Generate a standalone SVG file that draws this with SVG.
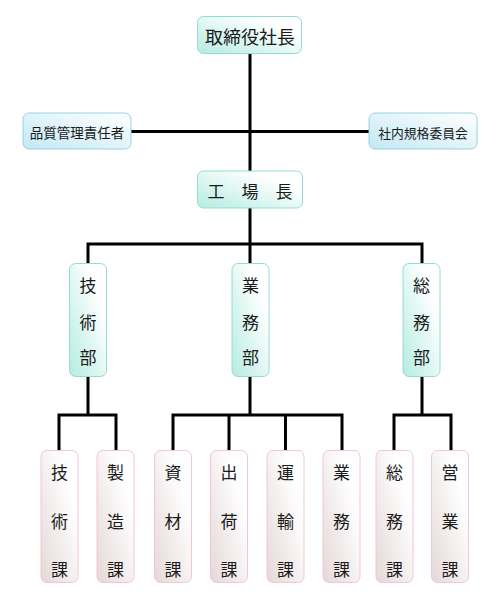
<svg xmlns="http://www.w3.org/2000/svg" width="500" height="600" viewBox="0 0 500 600">
<defs>
<linearGradient id="gMint" x1="0" y1="1" x2="1" y2="0">
<stop offset="0" stop-color="#b4ece0"/>
<stop offset="0.75" stop-color="#ffffff"/>
<stop offset="1" stop-color="#ffffff"/>
</linearGradient>
<linearGradient id="gBlue" x1="0" y1="1" x2="1" y2="0">
<stop offset="0" stop-color="#c2e8f4"/>
<stop offset="0.8" stop-color="#f4fbfd"/>
<stop offset="1" stop-color="#ffffff"/>
</linearGradient>
<linearGradient id="gPink" x1="0" y1="1" x2="1" y2="0">
<stop offset="0" stop-color="#e4d8d8"/>
<stop offset="0.75" stop-color="#ffffff"/>
<stop offset="1" stop-color="#ffffff"/>
</linearGradient>
<style>
.mint{fill:url(#gMint);stroke:#94dcd2;stroke-width:1}
.blue{fill:url(#gBlue);stroke:#96d2e6;stroke-width:1}
.pink{fill:url(#gPink);stroke:#f6c4d4;stroke-width:1}
text{font-family:"Noto Sans CJK JP","Noto Sans CJK SC",sans-serif;fill:#1a1a1a;text-anchor:middle;dominant-baseline:central}
.big{font-size:18px}
.mid{font-size:17px}
.sm{font-size:13.5px}
.conn{fill:none;stroke:#000;stroke-width:3;stroke-linejoin:miter;stroke-linecap:butt}
</style>
</defs>

<g id="connectors">
<path class="conn" d="M250,53 V171 M250,208 V263 M131,131.5 H369 M88,263 V244 H422 V263 M88,377 V415 M250,377 V415 M422,377 V415 M59,450 V415 H116 V450 M173,450 V415 H342 V450 M229,415 V450 M285.5,415 V450 M394,450 V415 H451 V450"/>
</g>

<g id="president">
<rect class="mint" x="197.5" y="16.5" width="104" height="37" rx="6"/>
<text class="big" x="250" y="36">取締役社長</text>
</g>

<g id="quality">
<rect class="blue" x="23" y="113" width="108" height="36" rx="6"/>
<text class="sm" x="77" y="132">品質管理責任者</text>
</g>

<g id="committee">
<rect class="blue" x="369" y="113" width="108" height="36" rx="6"/>
<text class="sm" x="423" y="132" style="font-size:12.8px">社内規格委員会</text>
</g>

<g id="plant">
<rect class="mint" x="197.5" y="171" width="105" height="37" rx="6"/>
<text class="mid" x="250" y="190">工　場　長</text>
</g>

<g id="dept-tech">
<rect class="mint" x="69.5" y="263.5" width="37" height="113" rx="6"/>
<text class="mid" x="88" y="284">技</text>
<text class="mid" x="88" y="321">術</text>
<text class="mid" x="88" y="356">部</text>
</g>

<g id="dept-biz">
<rect class="mint" x="232" y="263.5" width="37" height="113" rx="6"/>
<text class="mid" x="250.5" y="284">業</text>
<text class="mid" x="250.5" y="321">務</text>
<text class="mid" x="250.5" y="356">部</text>
</g>

<g id="dept-gen">
<rect class="mint" x="403" y="263.5" width="37" height="113" rx="6"/>
<text class="mid" x="421.5" y="284">総</text>
<text class="mid" x="421.5" y="321">務</text>
<text class="mid" x="421.5" y="356">部</text>
</g>

<g id="sec-tech">
<rect class="pink" x="41" y="450.5" width="37" height="132" rx="6"/>
<text class="mid" x="59.5" y="471.5">技</text>
<text class="mid" x="59.5" y="520">術</text>
<text class="mid" x="59.5" y="568">課</text>
</g>

<g id="sec-mfg">
<rect class="pink" x="97" y="450.5" width="37" height="132" rx="6"/>
<text class="mid" x="115.5" y="471.5">製</text>
<text class="mid" x="115.5" y="520">造</text>
<text class="mid" x="115.5" y="568">課</text>
</g>

<g id="sec-material">
<rect class="pink" x="154.5" y="450.5" width="37" height="132" rx="6"/>
<text class="mid" x="173" y="471.5">資</text>
<text class="mid" x="173" y="520">材</text>
<text class="mid" x="173" y="568">課</text>
</g>

<g id="sec-ship">
<rect class="pink" x="210.5" y="450.5" width="37" height="132" rx="6"/>
<text class="mid" x="229" y="471.5">出</text>
<text class="mid" x="229" y="520">荷</text>
<text class="mid" x="229" y="568">課</text>
</g>

<g id="sec-transport">
<rect class="pink" x="267" y="450.5" width="37" height="132" rx="6"/>
<text class="mid" x="285.5" y="471.5">運</text>
<text class="mid" x="285.5" y="520">輸</text>
<text class="mid" x="285.5" y="568">課</text>
</g>

<g id="sec-biz">
<rect class="pink" x="323" y="450.5" width="37" height="132" rx="6"/>
<text class="mid" x="341.5" y="471.5">業</text>
<text class="mid" x="341.5" y="520">務</text>
<text class="mid" x="341.5" y="568">課</text>
</g>

<g id="sec-gen">
<rect class="pink" x="376" y="450.5" width="37" height="132" rx="6"/>
<text class="mid" x="394.5" y="471.5">総</text>
<text class="mid" x="394.5" y="520">務</text>
<text class="mid" x="394.5" y="568">課</text>
</g>

<g id="sec-sales">
<rect class="pink" x="431.5" y="450.5" width="37" height="132" rx="6"/>
<text class="mid" x="450" y="471.5">営</text>
<text class="mid" x="450" y="520">業</text>
<text class="mid" x="450" y="568">課</text>
</g>
</svg>
